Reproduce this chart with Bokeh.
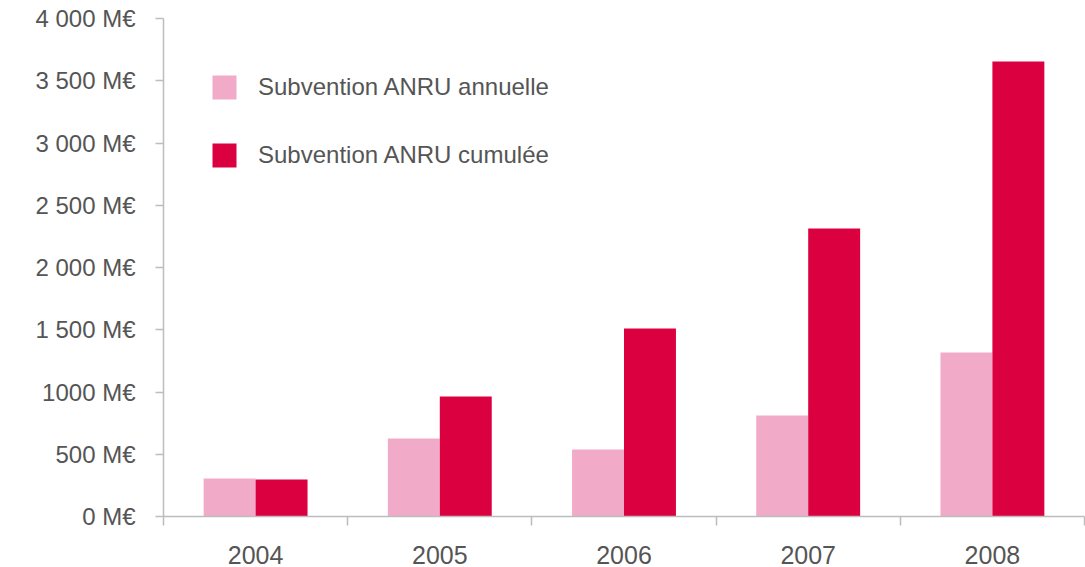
from bokeh.plotting import figure
from bokeh.models import ColumnDataSource, FixedTicker, Range1d, Legend, LegendItem
from bokeh.transform import dodge
from bokeh.embed import file_html
from bokeh.resources import INLINE

years = ["2004", "2005", "2006", "2007", "2008"]
annuelle = [305, 626, 538, 811, 1317]
cumulee = [297, 964, 1510, 2313, 3655]
y_ticks = [0, 500, 1000, 1500, 2000, 2500, 3000, 3500, 4000]
y_labels = ["0 M€", "500 M€", "1000 M€", "1 500 M€", "2 000 M€", "2 500 M€",
            "3 000 M€", "3 500 M€", "4 000 M€"]
series_names = ["Subvention ANRU annuelle", "Subvention ANRU cumulée"]

PINK = "#F2AAC9"
RED = "#DB0040"
TEXT = "#555555"
GRID = "#BDBDBD"
FONT = "Liberation Sans"

pos = [i + 0.5 for i in range(len(years))]
src = ColumnDataSource(dict(x=pos, annuelle=annuelle, cumulee=cumulee))

p = figure(width=1085, height=567, output_backend="svg", toolbar_location=None,
           x_range=Range1d(0, 5), y_range=Range1d(0, 4000),
           min_border_left=163, min_border_right=1, min_border_top=18,
           min_border_bottom=51)
p.outline_line_color = None
p.grid.visible = False
p.background_fill_color = "white"

w = 0.282
r1 = p.vbar(x=dodge("x", -w / 2, range=p.x_range), top="annuelle", width=w,
            source=src, fill_color=PINK, line_color=None)
r2 = p.vbar(x=dodge("x", w / 2, range=p.x_range), top="cumulee", width=w,
            source=src, fill_color=RED, line_color=None)

# y axis
ya = p.yaxis[0]
ya.ticker = FixedTicker(ticks=y_ticks, minor_ticks=[])
ya.major_label_overrides = {t: l for t, l in zip(y_ticks, y_labels)}
ya.axis_line_color = GRID
ya.axis_line_width = 1.5
ya.major_tick_line_color = GRID
ya.major_tick_line_width = 1.5
ya.major_tick_out = 8
ya.major_tick_in = 0
ya.minor_tick_line_color = None
ya.major_label_text_font = FONT
ya.major_label_text_font_size = "24px"
ya.major_label_text_color = TEXT
ya.major_label_standoff = 20

# x axis
xa = p.xaxis[0]
xa.ticker = FixedTicker(ticks=pos, minor_ticks=[0, 1, 2, 3, 4, 5])
xa.major_label_overrides = {t: l for t, l in zip(pos, years)}
xa.axis_line_color = GRID
xa.axis_line_width = 1.5
xa.major_tick_line_color = None
xa.major_tick_out = 0
xa.major_tick_in = 0
xa.minor_tick_line_color = GRID
xa.minor_tick_line_width = 1.5
xa.minor_tick_out = 9
xa.minor_tick_in = 0
xa.major_label_text_font = FONT
xa.major_label_text_font_size = "25px"
xa.major_label_text_color = TEXT
xa.major_label_standoff = 20

legend = Legend(items=[LegendItem(label=series_names[0], renderers=[r1]),
                       LegendItem(label=series_names[1], renderers=[r2])],
                location=(46, 346), orientation="vertical")
legend.glyph_width = 30
legend.glyph_height = 30
legend.label_height = 30
legend.spacing = 38
legend.label_standoff = 19
legend.padding = 0
legend.margin = 0
legend.border_line_color = None
legend.background_fill_alpha = 0
legend.label_text_font = FONT
legend.label_text_font_size = "24px"
legend.label_text_color = TEXT
p.add_layout(legend, "center")

open("out.html", "w").write(file_html(p, INLINE))
